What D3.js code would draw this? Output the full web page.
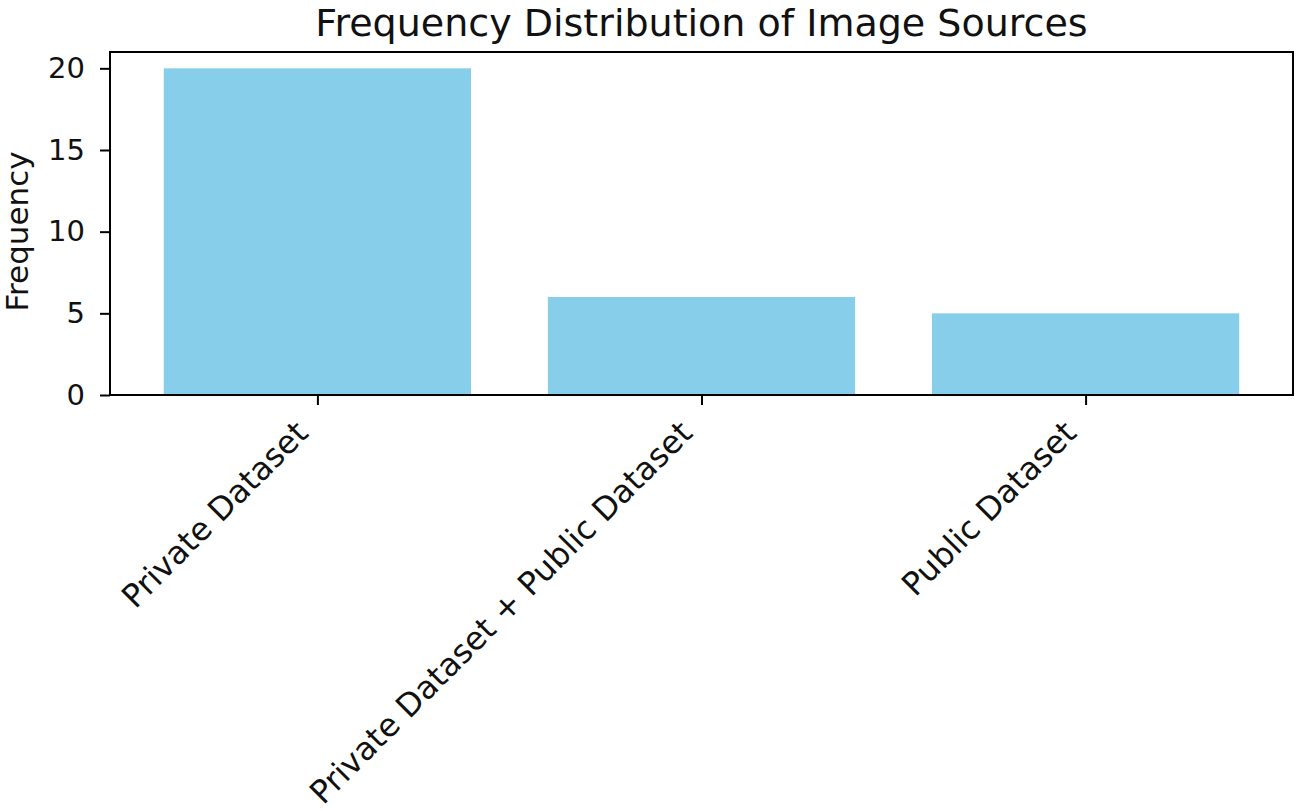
<!DOCTYPE html>
<html>
<head>
<meta charset="utf-8">
<script src="https://cdn.jsdelivr.net/npm/d3@7"></script>
<style>
  html, body { margin: 0; padding: 0; background: #fff; }
  svg { display: block; font-family: "DejaVu Sans", sans-serif; }
</style>
</head>
<body>
<svg id="chart" width="1299" height="811"></svg>
<script>
const categories = ["Private Dataset", "Private Dataset + Public Dataset", "Public Dataset"];
const frequencies = [20, 6, 5];
const yTicks = [0, 5, 10, 15, 20];
const titleText = "Frequency Distribution of Image Sources";
const yLabelText = "Frequency";

(function () {
const svg = d3.select("#chart");
const pLeft = 110, pRight = 1293, pTop = 52, pBottom = 395;

// index-based linear x scale mimicking matplotlib margins
const x = d3.scaleLinear().domain([-0.54, categories.length - 1 + 0.54]).range([pLeft, pRight]);
const barW = 0.8;
const y = d3.scaleLinear().domain([0, 21]).range([pBottom, pTop]);

svg.selectAll("rect.bar")
  .data(frequencies)
  .enter().append("rect")
  .attr("class", "bar")
  .attr("x", (d, i) => x(i - barW / 2))
  .attr("width", (d, i) => x(i + barW / 2) - x(i - barW / 2))
  .attr("y", d => y(d))
  .attr("height", d => y(0) - y(d))
  .attr("fill", "#87CEEB");

// y axis
const yAxis = d3.axisLeft(y).tickValues(yTicks).tickSize(10).tickPadding(15).tickFormat(d3.format("d"));
const gy = svg.append("g").attr("transform", `translate(${pLeft},0)`).call(yAxis);
gy.select(".domain").remove();
gy.selectAll(".tick line").attr("stroke", "#000").attr("stroke-width", 2);
gy.selectAll(".tick text").attr("font-size", 29).attr("fill", "#111").attr("font-family", "DejaVu Sans");

// x axis
const xAxis = d3.axisBottom(x).tickValues(d3.range(categories.length)).tickSize(10).tickFormat(i => categories[i]);
const gx = svg.append("g").attr("transform", `translate(0,${pBottom})`).call(xAxis);
gx.select(".domain").remove();
gx.selectAll(".tick line").attr("stroke", "#000").attr("stroke-width", 2);
gx.selectAll(".tick text")
  .attr("font-size", 32)
  .attr("fill", "#111")
  .attr("font-family", "DejaVu Sans")
  .attr("text-anchor", "end")
  .attr("dy", null)
  .attr("y", null)
  .attr("transform", "translate(-8,40) rotate(-45)");

// frame
svg.append("rect")
  .attr("x", pLeft).attr("y", pTop)
  .attr("width", pRight - pLeft).attr("height", pBottom - pTop)
  .attr("fill", "none").attr("stroke", "#000").attr("stroke-width", 2);

// title
svg.append("text")
  .attr("x", (pLeft + pRight) / 2).attr("y", 36)
  .attr("text-anchor", "middle")
  .attr("font-size", 38)
  .attr("fill", "#111")
  .text(titleText);

// y label
svg.append("text")
  .attr("transform", `translate(28,${(pTop + pBottom) / 2 + 8}) rotate(-90)`)
  .attr("text-anchor", "middle")
  .attr("font-size", 31)
  .attr("fill", "#111")
  .text(yLabelText);
})();
</script>
</body>
</html>
